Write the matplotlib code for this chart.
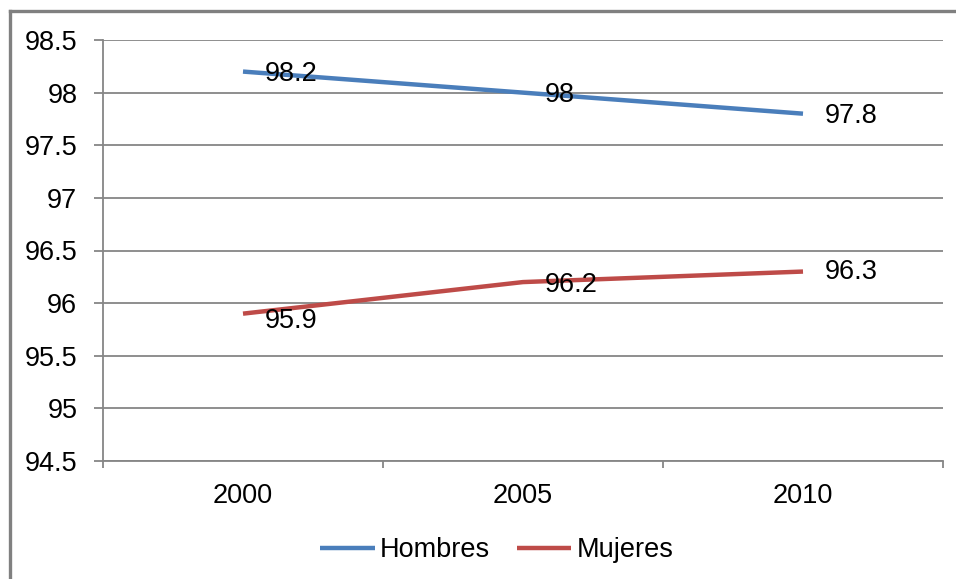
import matplotlib
matplotlib.use("Agg")
import matplotlib.pyplot as plt
from matplotlib.lines import Line2D

years = ["2000", "2005", "2010"]
hombres = [98.2, 98.0, 97.8]
mujeres = [95.9, 96.2, 96.3]
hombres_labels = ["98.2", "98", "97.8"]
mujeres_labels = ["95.9", "96.2", "96.3"]
yticks = [94.5, 95, 95.5, 96, 96.5, 97, 97.5, 98, 98.5]
ytick_labels = ["94.5", "95", "95.5", "96", "96.5", "97", "97.5", "98", "98.5"]

plt.rcParams['font.family'] = ['Liberation Sans', 'DejaVu Sans']

W, H = 956, 579
FS = 19.5
fig = plt.figure(figsize=(W / 100, H / 100), dpi=100)
ax = fig.add_axes([103 / W, 1 - 461 / H, (943 - 103) / W, (461 - 40) / H])

blue = "#4A7EBB"
red = "#BE4B48"
grid_c = "#868686"

x = list(range(len(years)))
ax.plot(x, hombres, color=blue, lw=3.2, solid_capstyle='butt', label="Hombres")
ax.plot(x, mujeres, color=red, lw=3.2, solid_capstyle='butt', label="Mujeres")

for xi, v, lab in zip(x, hombres, hombres_labels):
    ax.annotate(lab, (xi, v), xytext=(16, -1.5), textcoords='offset points',
                ha='left', va='center', fontsize=FS, color='black')
for xi, v, lab in zip(x, mujeres, mujeres_labels):
    ax.annotate(lab, (xi, v), xytext=(16, -5 if xi == 0 else (-2 if xi == 1 else 0)),
                textcoords='offset points',
                ha='left', va='center', fontsize=FS, color='black')

ax.set_xlim(-0.5, len(years) - 0.5)
ax.set_ylim(94.5, 98.5)
ax.set_yticks(yticks)
ax.set_yticklabels(ytick_labels, fontsize=FS)
ax.set_xticks(x)
ax.set_xticklabels(years, fontsize=FS)
ax.set_xticks([i - 0.5 for i in range(len(years) + 1)], minor=True)
ax.tick_params(axis='x', which='major', length=0, pad=16)
ax.tick_params(axis='x', which='minor', length=5, width=1.3, color=grid_c, direction='out')
ax.tick_params(axis='y', which='major', length=6.5, width=1.3, color=grid_c, direction='out', pad=12)

ax.grid(axis='y', color=grid_c, lw=1.3)
ax.set_axisbelow(True)
for s in ['top', 'right']:
    ax.spines[s].set_visible(False)
for s in ['left', 'bottom']:
    ax.spines[s].set_color(grid_c)
    ax.spines[s].set_linewidth(1.3)

leg = fig.legend(loc='center', bbox_to_anchor=(497 / W, 1 - 550 / H), ncol=2,
                 frameon=False, fontsize=FS, handlelength=2.0, handletextpad=0.2,
                 columnspacing=1.0)

# figure border (top and left visible)
fig.add_artist(Line2D([10 / W, 1.0], [1 - 11 / H, 1 - 11 / H], transform=fig.transFigure,
                      color="#808080", lw=2.4))
fig.add_artist(Line2D([10 / W, 10 / W], [0.0, 1 - 11 / H], transform=fig.transFigure,
                      color="#808080", lw=2.4))

fig.savefig("out.png", dpi=100, facecolor='white')
